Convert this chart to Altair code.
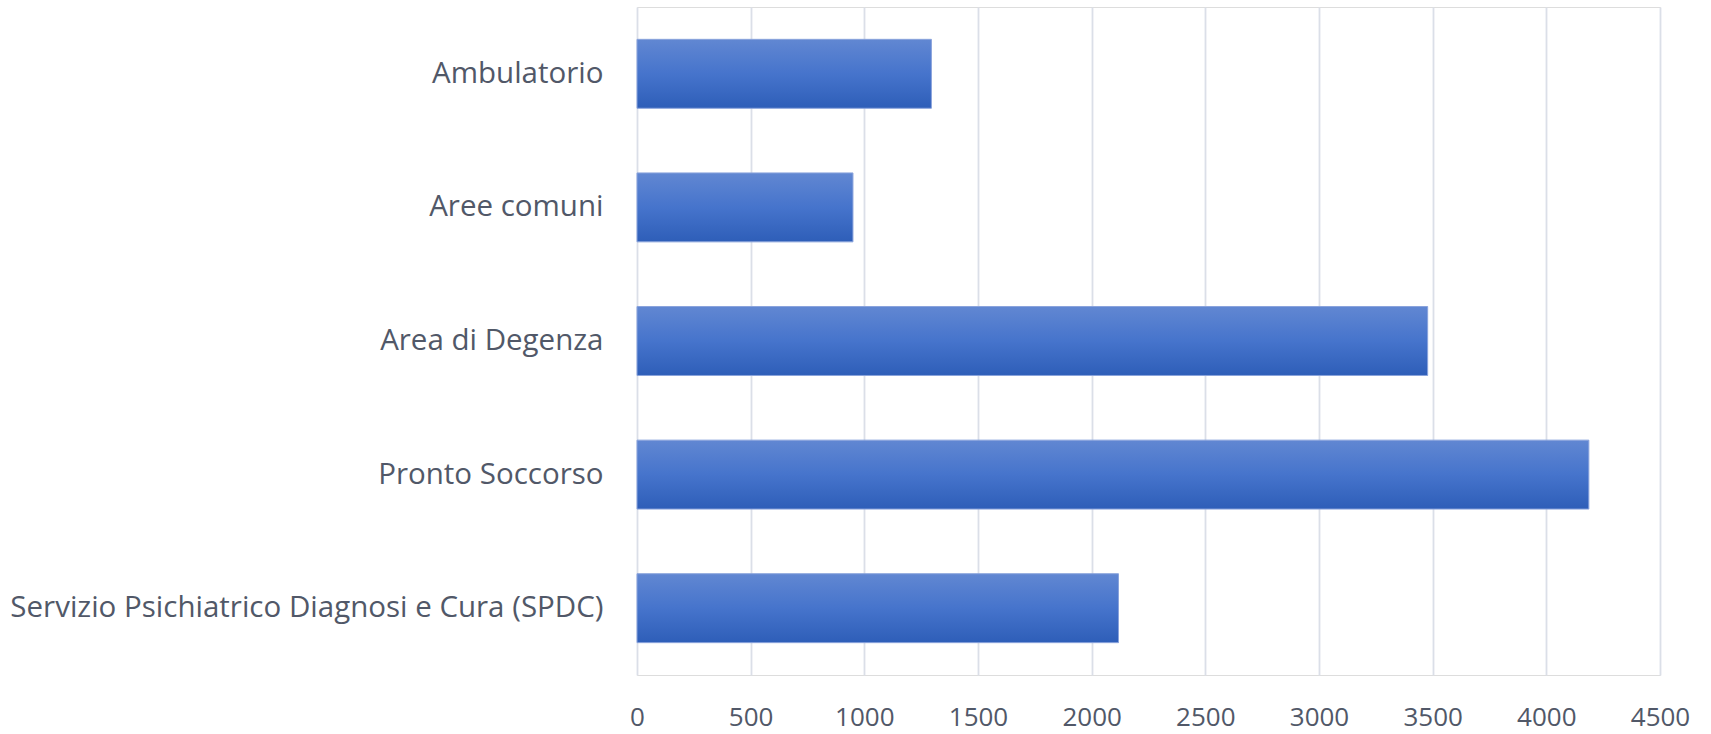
import altair as alt
import pandas as pd

# Reparti / aree and counts
categories = [
    "Ambulatorio",
    "Aree comuni",
    "Area di Degenza",
    "Pronto Soccorso",
    "Servizio Psichiatrico Diagnosi e Cura (SPDC)",
]
values = [1295, 950, 3478, 4187, 2118]
x_ticks = [0, 500, 1000, 1500, 2000, 2500, 3000, 3500, 4000, 4500]

df = pd.DataFrame({"area": categories, "valore": values})

bar_fill = alt.LinearGradient(
    gradient="linear",
    x1=0, x2=0, y1=0, y2=1,
    stops=[
        alt.GradientStop(color="#6187d2", offset=0),
        alt.GradientStop(color="#4674cc", offset=0.5),
        alt.GradientStop(color="#2e5eb8", offset=1),
    ],
)

text_color = "#515868"

chart = (
    alt.Chart(df)
    .mark_bar(fill=bar_fill, stroke="#8aa3dc", strokeWidth=1)
    .encode(
        x=alt.X(
            "valore:Q",
            scale=alt.Scale(domain=[0, 4500], nice=False, zero=True),
            axis=alt.Axis(
                values=x_ticks,
                format="d",
                title=None,
                domain=False,
                ticks=False,
                grid=True,
                gridColor="#dbdfe8",
                gridWidth=1.8,
                labelFont="Open Sans",
                labelFontSize=26,
                labelColor=text_color,
                labelBaseline="middle",
                labelPadding=42,
                labelFlush=False,
                labelOverlap=False,
            ),
        ),
        y=alt.Y(
            "area:N",
            sort=categories,
            scale=alt.Scale(paddingInner=0.484, paddingOuter=0.242),
            axis=alt.Axis(
                title=None,
                domain=False,
                ticks=False,
                grid=False,
                labelFont="Open Sans",
                labelFontSize=29.5,
                labelColor=text_color,
                labelPadding=34,
                labelLimit=0,
            ),
        ),
    )
    .properties(
        width=1023,
        height=668,
        autosize=alt.AutoSizeParams(type="none"),
        padding={"left": 637, "top": 7, "right": 51, "bottom": 59},
    )
    .configure_view(stroke=None)
    .configure(background="white")
)

chart.save("out.html", embed_options={"renderer": "svg", "actions": False})
